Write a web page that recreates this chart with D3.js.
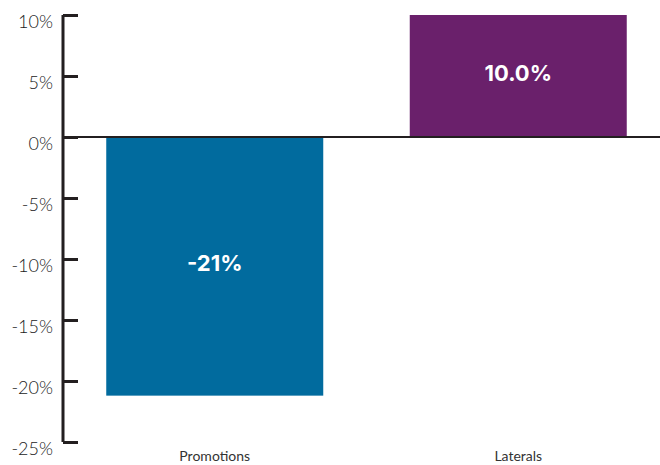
<!DOCTYPE html>
<html>
<head>
<meta charset="utf-8">
<script src="https://cdn.jsdelivr.net/npm/d3@7"></script>
<style>
  body { margin: 0; background: #fff; }
  svg { display: block; font-family: Lato, "Open Sans", sans-serif; }
</style>
</head>
<body>
<div id="chart"></div>
<script>
// data
const categories = ['Promotions', 'Laterals'];
const values = [-21.2, 10.0];
const valueLabels = ['-21%', '10.0%'];
const barColors = ['#016b9e', '#6a206b'];
const yTicks = [10, 5, 0, -5, -10, -15, -20, -25];

const width = 660, height = 465;

const svg = d3.select('#chart')
  .append('svg')
  .attr('width', width)
  .attr('height', height);

// scales
const x = d3.scaleBand()
  .domain(categories)
  .range([63, 670])
  .paddingInner(0.285)
  .paddingOuter(0.1425);

const y = d3.scaleLinear()
  .domain([-25, 10])
  .range([442, 15]);

// bars
svg.selectAll('rect.bar')
  .data(categories)
  .join('rect')
  .attr('class', 'bar')
  .attr('x', d => x(d))
  .attr('width', x.bandwidth())
  .attr('y', (d, i) => y(Math.max(0, values[i])))
  .attr('height', (d, i) => Math.abs(y(values[i]) - y(0)))
  .attr('fill', (d, i) => barColors[i]);

// value labels inside bars
svg.selectAll('text.val')
  .data(categories)
  .join('text')
  .attr('class', 'val')
  .attr('x', d => x(d) + x.bandwidth() / 2)
  .attr('y', (d, i) => (y(values[i]) + y(0)) / 2 - 3)
  .attr('dy', '0.35em')
  .attr('text-anchor', 'middle')
  .attr('fill', '#fff')
  .style('font-family', 'Inter, sans-serif')
  .style('font-size', '22px')
  .style('font-weight', 700)
  .text((d, i) => valueLabels[i]);

// y axis
const yAxis = svg.append('g')
  .attr('transform', 'translate(63,0)')
  .call(d3.axisRight(y)
    .tickValues(yTicks)
    .tickSize(15)
    .tickFormat(d => d + '%'));

yAxis.select('.domain')
  .attr('d', `M0,${y(10)}V${y(-25)}`)
  .attr('stroke', '#231f20')
  .attr('stroke-width', 3);
yAxis.selectAll('.tick line')
  .attr('stroke', '#231f20')
  .attr('stroke-width', 3);
yAxis.selectAll('.tick text')
  .attr('x', -10)
  .attr('y', 0)
  .attr('dy', '0.7em')
  .attr('text-anchor', 'end')
  .attr('fill', '#1a1a1a')
  .style('font-family', 'Lato, sans-serif')
  .style('font-size', '18px')
  .style('font-weight', 300);

// zero line
svg.append('line')
  .attr('x1', 63)
  .attr('x2', width)
  .attr('y1', y(0))
  .attr('y2', y(0))
  .attr('stroke', '#231f20')
  .attr('stroke-width', 2);

// category labels
svg.selectAll('text.cat')
  .data(categories)
  .join('text')
  .attr('class', 'cat')
  .attr('x', d => x(d) + x.bandwidth() / 2)
  .attr('y', 461)
  .attr('text-anchor', 'middle')
  .attr('fill', '#333')
  .style('font-size', '14px')
  .style('font-weight', 400)
  .text(d => d);
</script>
</body>
</html>
